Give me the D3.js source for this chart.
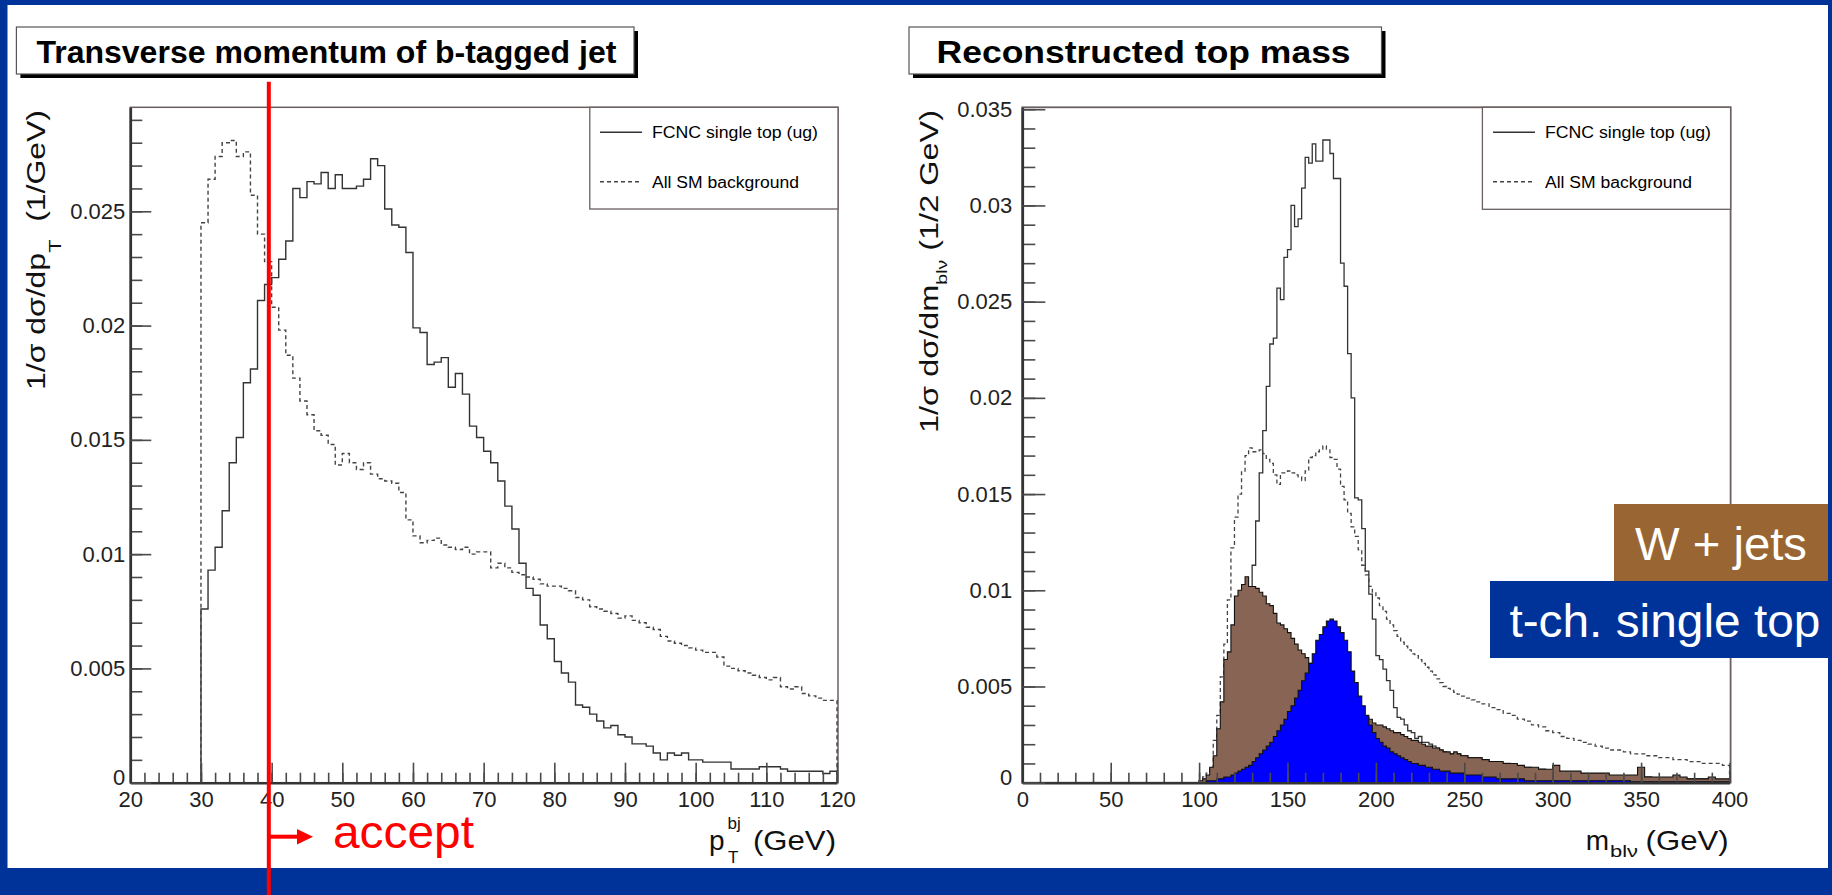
<!DOCTYPE html>
<html><head><meta charset="utf-8">
<script src="https://cdn.jsdelivr.net/npm/d3@7"></script>
<style>
html,body{margin:0;padding:0;background:#003399;overflow:hidden;}
svg{display:block;}
text{font-family:"Liberation Sans",Arial,Helvetica,sans-serif;white-space:pre;}
</style></head><body>
<svg id="c" width="1832" height="895"></svg>
<script>
// ---------------- data ----------------
// Left: transverse momentum of b-tagged jet, 1 GeV bins from 30 to 120 GeV
const ptEdges = d3.range(30, 121, 1);
const ptFCNC = [0.0076,0.0093,0.0103,0.0119,0.0140,0.0151,0.0175,0.0181,0.0211,0.0218,
0.0221,0.0229,0.0237,0.0260,0.0256,0.0263,0.0262,0.0267,0.0260,0.0266,
0.0260,0.0260,0.0261,0.0264,0.0273,0.0270,0.0251,0.0244,0.0243,0.0232,
0.0199,0.0197,0.0183,0.0184,0.0186,0.0173,0.0179,0.0170,0.0156,0.0151,
0.0145,0.0140,0.0132,0.0121,0.0111,0.0096,0.0085,0.0082,0.0069,0.0063,
0.0053,0.0048,0.0044,0.0034,0.0033,0.0030,0.0027,0.0024,0.0025,0.0021,
0.0020,0.0017,0.0017,0.0016,0.0013,0.0010,0.0013,0.0012,0.0013,0.0010,
0.0010,0.0009,0.0009,0.0009,0.0009,0.0006,0.0006,0.0006,0.0006,0.0007,
0.0007,0.0007,0.0006,0.0005,0.0005,0.0005,0.0005,0.0005,0.0004,0.0005];
const ptSM = [0.0245,0.0264,0.0274,0.0280,0.0281,0.0274,0.0276,0.0257,0.0240,0.0228,
0.0208,0.0198,0.0187,0.0177,0.0167,0.0161,0.0154,0.0152,0.0148,0.0139,
0.0144,0.0140,0.0137,0.0140,0.0135,0.0133,0.0132,0.0131,0.0127,0.0115,
0.0108,0.0105,0.0106,0.0107,0.0104,0.0103,0.0102,0.0103,0.0100,0.0101,
0.0101,0.0094,0.0096,0.0094,0.0092,0.0091,0.0090,0.0089,0.0087,0.0086,
0.0086,0.0085,0.0084,0.0081,0.0080,0.0077,0.0076,0.0075,0.0074,0.0072,
0.0073,0.0071,0.0070,0.0068,0.0067,0.0064,0.0062,0.0061,0.0060,0.0059,
0.0058,0.0057,0.0057,0.0055,0.0051,0.0050,0.0049,0.0048,0.0047,0.0046,
0.0045,0.0046,0.0042,0.0041,0.0042,0.0039,0.0038,0.0037,0.0036,0.0036];
const ptXTicks = [20,30,40,50,60,70,80,90,100,110,120];
const ptXMinor = d3.range(20, 121, 2);
const ptYTicks = [0,0.005,0.01,0.015,0.02,0.025];
const ptYMinor = d3.range(0, 0.0295, 0.001);

// Right: reconstructed top mass, 2 GeV bins 100-256, 4 GeV bins 256-400
const mEdges = d3.range(100, 256, 2).concat(d3.range(256, 401, 4));
const mFCNC = [0,0,0,0.0001,0.0001,0.0002,0.0003,0.0005,0.0008,0.0012,
0.0018,0.0026,0.0036,0.0050,0.0075,0.0113,0.0136,0.0161,0.0183,0.0206,
0.0228,0.0231,0.0257,0.0251,0.0273,0.0277,0.0300,0.0289,0.0293,0.0309,
0.0325,0.0322,0.0332,0.0323,0.0323,0.0334,0.0334,0.0327,0.0314,0.0314,
0.0270,0.0258,0.0223,0.0200,0.0148,0.0147,0.0132,0.0110,0.0098,0.0085,
0.0066,0.0064,0.0059,0.0053,0.0048,0.0039,0.0034,0.0033,0.0030,0.0027,
0.0026,0.0023,0.0024,0.0021,0.0021,0.0020,0.0019,0.0018,0.0017,0.0016,
0.0015,0.0015,0.0015,0.0015,0.0014,0.0014,0.0013,0.0013,
0.0013,0.0012,0.0011,0.0010,0.0010,0.0009,0.0008,0.0008,0.0007,0.0007,
0.0006,0.0006,0.0005,0.0005,0.0005,0.0004,0.0004,0.0004,0.0004,0.0003,
0.0003,0.0003,0.0003,0.0003,0.0003,0.0002,0.0002,0.0002,0.0002,0.0002,
0.0002,0.0002,0.0002,0.0001,0.0001,0.0001];
const mSM = [0.0001,0.0003,0.0005,0.0008,0.0022,0.0035,0.0055,0.0072,0.0095,0.0122,
0.0138,0.0150,0.0162,0.0170,0.0174,0.0172,0.0172,0.0173,0.0171,0.0168,
0.0166,0.0160,0.0155,0.0161,0.0161,0.0162,0.0161,0.0160,0.0159,0.0157,
0.0162,0.0169,0.0170,0.0172,0.0173,0.0175,0.0173,0.0169,0.0168,0.0163,
0.0154,0.0147,0.0140,0.0133,0.0128,0.0121,0.0113,0.0108,0.0102,0.0099,
0.0096,0.0092,0.0089,0.0085,0.0082,0.0079,0.0076,0.0073,0.0071,0.0069,
0.0067,0.0066,0.0064,0.0062,0.0060,0.0058,0.0056,0.0054,0.0052,0.0050,
0.0049,0.0048,0.0047,0.0046,0.0045,0.0044,0.0044,0.0043,
0.0042,0.0041,0.0039,0.0038,0.0036,0.0035,0.0033,0.0032,0.0030,0.0029,
0.0027,0.0026,0.0024,0.0023,0.0022,0.0021,0.0020,0.0019,0.0018,0.0017,
0.0017,0.0016,0.0015,0.0015,0.0014,0.0014,0.0013,0.0013,0.0012,0.0012,
0.0011,0.0011,0.0010,0.0010,0.0010,0.0009];
const mWjets = [0.0001,0.0002,0.0004,0.0008,0.0014,0.0028,0.0042,0.0064,0.0068,0.0082,
0.0097,0.0100,0.0103,0.0107,0.0102,0.0102,0.0101,0.0099,0.0097,0.0093,
0.0092,0.0088,0.0083,0.0082,0.0080,0.0078,0.0075,0.0072,0.0069,0.0067,
0.0065,0.0062,0.0060,0.0057,0.0054,0.0051,0.0048,0.0046,0.0044,0.0042,
0.0040,0.0039,0.0037,0.0036,0.0035,0.0035,0.0034,0.0034,0.0033,0.0031,
0.0030,0.0030,0.0029,0.0028,0.0027,0.0026,0.0026,0.0025,0.0024,0.0023,
0.0022,0.0022,0.0021,0.0020,0.0019,0.0019,0.0018,0.0018,0.0017,0.0016,
0.0016,0.0015,0.0016,0.0015,0.0014,0.0014,0.0013,0.0013,
0.0013,0.0012,0.0011,0.0011,0.0010,0.0010,0.0009,0.0008,0.0008,0.0007,
0.0007,0.0009,0.0006,0.0006,0.0006,0.0005,0.0005,0.0005,0.0005,0.0004,
0.0004,0.0004,0.0004,0.0008,0.0003,0.0003,0.0003,0.0003,0.0004,0.0003,
0.0002,0.0002,0.0002,0.0003,0.0002,0.0002];
const mTch = [0,0,0.0001,0.0001,0.0001,0.0002,0.0002,0.0003,0.0003,0.0004,
0.0005,0.0006,0.0007,0.0008,0.0009,0.0011,0.0013,0.0015,0.0017,0.0019,
0.0021,0.0024,0.0027,0.0030,0.0033,0.0037,0.0040,0.0044,0.0048,0.0053,
0.0057,0.0062,0.0067,0.0074,0.0077,0.0081,0.0084,0.0085,0.0084,0.0081,
0.0078,0.0074,0.0068,0.0058,0.0052,0.0045,0.0040,0.0035,0.0030,0.0026,
0.0023,0.0021,0.0019,0.0018,0.0016,0.0015,0.0014,0.0013,0.0012,0.0011,
0.0010,0.0010,0.0009,0.0009,0.0008,0.0008,0.0007,0.0007,0.0006,0.0006,
0.0006,0.0005,0.0005,0.0005,0.0005,0.0004,0.0004,0.0004,
0.0004,0.0003,0.0003,0.0002,0.0002,0.0002,0.0002,0.0001,0.0001,0.0001,
0.0001,0.0001,0.0001,0.0001,0.0001,0.0001,0.0001,0.0001,0.0001,0.0001,
0.0001,0.0001,0.00005,0.00005,0.00005,0.00005,0.00005,0.00005,0.00005,0.00005,
0.00005,0.00005,0.00005,0.00005,0.00005,0.00005];
const mXTicks = [0,50,100,150,200,250,300,350,400];
const mXMinor = d3.range(0, 401, 10);
const mYTicks = [0,0.005,0.01,0.015,0.02,0.025,0.03,0.035];
const mYMinor = d3.range(0, 0.0355, 0.001);

const legendLabels = ["FCNC single top (ug)", "All SM background"];
const titles = ["Transverse momentum of b-tagged jet", "Reconstructed top mass"];
const boxLabels = ["W + jets", "t-ch. single top"];
const cutValue = 39.6;

// ---------------- drawing ----------------
const svg = d3.select("#c");
svg.append("rect").attr("x",0).attr("y",0).attr("width",1832).attr("height",895).attr("fill","#003399");
svg.append("rect").attr("x",7.5).attr("y",5).attr("width",1820.5).attr("height",863).attr("fill","#ffffff");

const FRAME = "#6b5f5f", LINE = "#333", DASH = "#444";

function stepPath(edges, vals, x, y) {
  const p = d3.path();
  p.moveTo(x(edges[0]), y(0));
  vals.forEach((v, i) => { p.lineTo(x(edges[i]), y(v)); p.lineTo(x(edges[i + 1]), y(v)); });
  p.lineTo(x(edges[edges.length - 1]), y(0));
  return p.toString();
}
const fmt = d => String(+(+d).toFixed(4));

function titleBox(x, y, w, h, text, tx, tlen) {
  svg.append("rect").attr("x", x + 4).attr("y", y + 4).attr("width", w).attr("height", h).attr("fill", "#000");
  svg.append("rect").attr("x", x).attr("y", y).attr("width", w).attr("height", h)
    .attr("fill", "#fff").attr("stroke", "#555").attr("stroke-width", 1.2);
  svg.append("text").attr("x", tx).attr("y", y + 36).attr("font-size", 32).attr("font-weight", "bold")
    .attr("textLength", tlen).attr("lengthAdjust", "spacingAndGlyphs").attr("fill", "#000").text(text);
}

function axes(x, y, xt, xm, yt, ym, majY, minY) {
  const [x0] = x.range(); const [y0] = y.range();
  const gx = svg.append("g").attr("transform", `translate(0,${y0})`);
  gx.call(d3.axisBottom(x).tickValues(xm).tickSize(-10).tickSizeOuter(0).tickFormat(""));
  gx.select(".domain").remove();
  gx.selectAll("text").remove();
  const gx2 = svg.append("g").attr("transform", `translate(0,${y0})`);
  gx2.call(d3.axisBottom(x).tickValues(xt).tickSize(-20).tickSizeOuter(0).tickPadding(9).tickFormat(fmt));
  const gy = svg.append("g").attr("transform", `translate(${x0},0)`);
  gy.call(d3.axisLeft(y).tickValues(ym).tickSize(-minY).tickSizeOuter(0).tickFormat(""));
  gy.select(".domain").remove();
  gy.selectAll("text").remove();
  const gy2 = svg.append("g").attr("transform", `translate(${x0},0)`);
  gy2.call(d3.axisLeft(y).tickValues(yt).tickSize(-majY).tickSizeOuter(0).tickPadding(majY === 21 ? 5 : 10).tickFormat(fmt));
  [gx, gx2, gy, gy2].forEach(g => {
    g.selectAll(".tick line").attr("stroke", "#4a4a4a").attr("stroke-width", 1.6);
    g.selectAll(".domain").attr("stroke", "#333").attr("stroke-width", 2.6);
    g.selectAll("text").attr("font-size", 22).attr("fill", "#222")
      .attr("font-family", "'Liberation Sans', Arial, sans-serif");
  });
  // origin label sits a little above the tick, as in the reference
  gy2.selectAll(".tick").filter(d => d === 0).select("text").attr("dy", "0.1em");
}

function legend(x0, y0, w, h, lx) {
  svg.append("rect").attr("x", x0).attr("y", y0).attr("width", w).attr("height", h)
    .attr("fill", "#fff").attr("stroke", FRAME).attr("stroke-width", 1.3);
  const ys = [y0 + 25, y0 + 74.5];
  svg.append("line").attr("x1", lx).attr("x2", lx + 42).attr("y1", ys[0]).attr("y2", ys[0])
    .attr("stroke", LINE).attr("stroke-width", 1.4);
  svg.append("line").attr("x1", lx).attr("x2", lx + 42).attr("y1", ys[1]).attr("y2", ys[1])
    .attr("stroke", DASH).attr("stroke-width", 1.4).attr("stroke-dasharray", "4,3");
  svg.append("text").attr("x", lx + 52).attr("y", ys[0] + 6).attr("font-size", 16)
    .attr("textLength", 166).attr("lengthAdjust", "spacingAndGlyphs").text(legendLabels[0]);
  svg.append("text").attr("x", lx + 52).attr("y", ys[1] + 6).attr("font-size", 16)
    .attr("textLength", 147).attr("lengthAdjust", "spacingAndGlyphs").text(legendLabels[1]);
}

// ===== Left chart =====
const xL = d3.scaleLinear().domain([20, 120]).range([130.3, 837]);
const yL = d3.scaleLinear().domain([0, 0.02955]).range([782.7, 107.3]);
titleBox(16.4, 27, 617.6, 47, titles[0], 36.4, 580);
svg.append("rect").attr("x", 130.3).attr("y", 107.3).attr("width", 707.7).attr("height", 675.4)
  .attr("fill", "none").attr("stroke", FRAME).attr("stroke-width", 1.5);
svg.append("path").attr("d", stepPath(ptEdges, ptFCNC, xL, yL)).attr("fill", "none")
  .attr("stroke", LINE).attr("stroke-width", 1.4);
svg.append("path").attr("d", stepPath(ptEdges, ptSM, xL, yL)).attr("fill", "none")
  .attr("stroke", DASH).attr("stroke-width", 1.4).attr("stroke-dasharray", "4,3");
axes(xL, yL, ptXTicks, ptXMinor, ptYTicks, ptYMinor, 21, 12);
legend(589.8, 107.3, 248.2, 101.7, 600);

// y label left
{
  const t = svg.append("text").attr("transform", "translate(45,250) rotate(-90)")
    .attr("text-anchor", "middle").attr("font-size", 25).attr("fill", "#111")
    .attr("textLength", 280).attr("lengthAdjust", "spacingAndGlyphs");
  t.append("tspan").text("1/σ dσ/dp");
  t.append("tspan").attr("font-size", 17).attr("dy", 16).text("T");
  t.append("tspan").attr("dy", -16).text("  (1/GeV)");
}
// x label left
svg.append("text").attr("x", 709).attr("y", 850).attr("font-size", 28).attr("fill", "#111").text("p");
svg.append("text").attr("x", 728).attr("y", 863).attr("font-size", 17).attr("fill", "#111").text("T");
svg.append("text").attr("x", 727.5).attr("y", 829).attr("font-size", 17).attr("fill", "#111").text("bj");
svg.append("text").attr("x", 753).attr("y", 850).attr("font-size", 28).attr("fill", "#111")
  .attr("textLength", 83).attr("lengthAdjust", "spacingAndGlyphs").text("(GeV)");

// cut line + accept
const xc = xL(cutValue);
svg.append("line").attr("x1", xc).attr("x2", xc).attr("y1", 81.7).attr("y2", 895)
  .attr("stroke", "#ff0000").attr("stroke-width", 4);
svg.append("line").attr("x1", xc).attr("x2", 299).attr("y1", 836.7).attr("y2", 836.7)
  .attr("stroke", "#ff0000").attr("stroke-width", 4);
svg.append("path").attr("d", `M297,829 L313,836.7 L297,844.4 Z`).attr("fill", "#ff0000");
svg.append("text").attr("x", 333).attr("y", 848).attr("font-size", 47).attr("fill", "#ff0000")
  .attr("textLength", 141).attr("lengthAdjust", "spacingAndGlyphs").text("accept");

// ===== Right chart =====
const xR = d3.scaleLinear().domain([0, 400]).range([1022.3, 1729.5]);
const yR = d3.scaleLinear().domain([0, 0.0351]).range([782.7, 107.3]);
titleBox(909, 27, 472.5, 47, titles[1], 936.6, 414);
svg.append("rect").attr("x", 1022.3).attr("y", 107.3).attr("width", 708.3).attr("height", 675.4)
  .attr("fill", "none").attr("stroke", FRAME).attr("stroke-width", 1.8);
svg.append("path").attr("d", stepPath(mEdges, mFCNC, xR, yR)).attr("fill", "none")
  .attr("stroke", LINE).attr("stroke-width", 1.3);
svg.append("path").attr("d", stepPath(mEdges, mSM, xR, yR)).attr("fill", "none")
  .attr("stroke", DASH).attr("stroke-width", 1.3).attr("stroke-dasharray", "4,3");
svg.append("path").attr("d", stepPath(mEdges, mWjets, xR, yR) + "Z").attr("fill", "#876453")
  .attr("stroke", "#111").attr("stroke-width", 1.1);
svg.append("path").attr("d", stepPath(mEdges, mTch, xR, yR) + "Z").attr("fill", "#0000ff")
  .attr("stroke", "#111").attr("stroke-width", 1.1);
axes(xR, yR, mXTicks, mXMinor, mYTicks, mYMinor, 23, 13);
legend(1482.4, 107.3, 248.2, 102, 1493);

{
  const t = svg.append("text").attr("transform", "translate(938,271.5) rotate(-90)")
    .attr("text-anchor", "middle").attr("font-size", 25).attr("fill", "#111")
    .attr("textLength", 323).attr("lengthAdjust", "spacingAndGlyphs");
  t.append("tspan").text("1/σ dσ/dm");
  t.append("tspan").attr("font-size", 15).attr("dy", 9).text("blν");
  t.append("tspan").attr("dy", -9).text(" (1/2 GeV)");
}
svg.append("text").attr("x", 1585.7).attr("y", 850).attr("font-size", 28).attr("fill", "#111").text("m");
svg.append("text").attr("x", 1610).attr("y", 857).attr("font-size", 17).attr("fill", "#111")
  .attr("textLength", 28).attr("lengthAdjust", "spacingAndGlyphs").text("blν");
svg.append("text").attr("x", 1645.6).attr("y", 850).attr("font-size", 28).attr("fill", "#111")
  .attr("textLength", 83).attr("lengthAdjust", "spacingAndGlyphs").text("(GeV)");

// process boxes
svg.append("rect").attr("x", 1614).attr("y", 504).attr("width", 214).attr("height", 77).attr("fill", "#996633");
svg.append("text").attr("x", 1635).attr("y", 560).attr("font-size", 46).attr("fill", "#fff")
  .attr("textLength", 172).attr("lengthAdjust", "spacingAndGlyphs").text(boxLabels[0]);
svg.append("rect").attr("x", 1490).attr("y", 581).attr("width", 338).attr("height", 77).attr("fill", "#003399");
svg.append("text").attr("x", 1509.4).attr("y", 636.5).attr("font-size", 47).attr("fill", "#fff")
  .attr("textLength", 311).attr("lengthAdjust", "spacingAndGlyphs").text(boxLabels[1]);
</script>
</body></html>
